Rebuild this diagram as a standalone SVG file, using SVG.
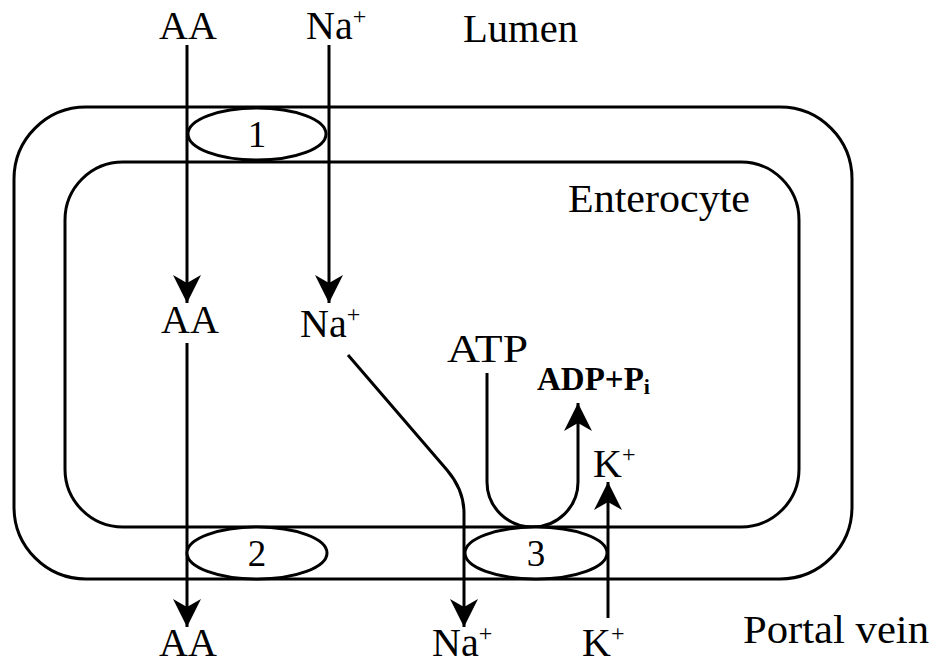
<svg xmlns="http://www.w3.org/2000/svg" width="932" height="665" viewBox="0 0 932 665">
<style>
.mem{fill:none;stroke:#000;stroke-width:3}
.tr{fill:#fff;stroke:#000;stroke-width:3}
.ln{fill:none;stroke:#000;stroke-width:3}
text{font-family:"Liberation Serif","Times New Roman",serif;font-size:40px;fill:#000}
.num{font-size:37px;text-anchor:middle}
.sup{font-size:24px}
.b{font-weight:bold;font-size:33px}
</style>
<defs>
<marker id="ah" markerUnits="userSpaceOnUse" markerWidth="32" markerHeight="32" viewBox="-30 -16 32 32" refX="0" refY="0" orient="auto">
<path d="M0,0 L-28,-14 L-20,0 L-28,14 Z" fill="#000"/>
</marker>
</defs>
<rect id="lumen-membrane" class="mem" x="14" y="107" width="838" height="472" rx="72" ry="72"/>
<rect id="enterocyte-membrane" class="mem" x="65" y="162" width="734" height="365" rx="58" ry="58"/>
<g id="connectors">
<line class="ln" x1="187" y1="45" x2="187" y2="303" marker-end="url(#ah)"/>
<line class="ln" x1="329" y1="45" x2="329" y2="303" marker-end="url(#ah)"/>
<line class="ln" x1="187" y1="343" x2="187" y2="627" marker-end="url(#ah)"/>
<path class="ln" d="M348,355 L447,470 Q464,490 464,513 L464,627" marker-end="url(#ah)"/>
<path class="ln" d="M487,373 L487,482 A45.5,45 0 0 0 578,482 L578,403" marker-end="url(#ah)"/>
<line class="ln" x1="608" y1="618" x2="608" y2="482" marker-end="url(#ah)"/>
</g>
<g id="t1"><ellipse class="tr" cx="257" cy="134" rx="69" ry="26"/><text class="num" x="257" y="147">1</text></g>
<g id="t2"><ellipse class="tr" cx="257" cy="553" rx="70" ry="26"/><text class="num" x="257" y="566">2</text></g>
<g id="t3"><ellipse class="tr" cx="536" cy="553" rx="71" ry="26"/><text class="num" x="536" y="566">3</text></g>
<g id="labels">
<text x="188" y="39" text-anchor="middle">AA</text>
<text x="306" y="39">Na<tspan class="sup" dy="-15">+</tspan></text>
<text x="463" y="42" textLength="115" lengthAdjust="spacingAndGlyphs">Lumen</text>
<text x="568" y="212" textLength="182" lengthAdjust="spacingAndGlyphs">Enterocyte</text>
<text x="190" y="333" text-anchor="middle">AA</text>
<text x="300" y="337">Na<tspan class="sup" dy="-15">+</tspan></text>
<text x="447" y="362" textLength="81" lengthAdjust="spacingAndGlyphs">ATP</text>
<text class="b" x="537" y="390">ADP+P<tspan font-size="22" dy="4">i</tspan></text>
<text x="593" y="477">K<tspan class="sup" dy="-15">+</tspan></text>
<text x="188" y="656" text-anchor="middle">AA</text>
<text x="432" y="656">Na<tspan class="sup" dy="-15">+</tspan></text>
<text x="582" y="656">K<tspan class="sup" dy="-15">+</tspan></text>
<text x="743" y="643" textLength="186" lengthAdjust="spacingAndGlyphs">Portal vein</text>
</g>
</svg>
